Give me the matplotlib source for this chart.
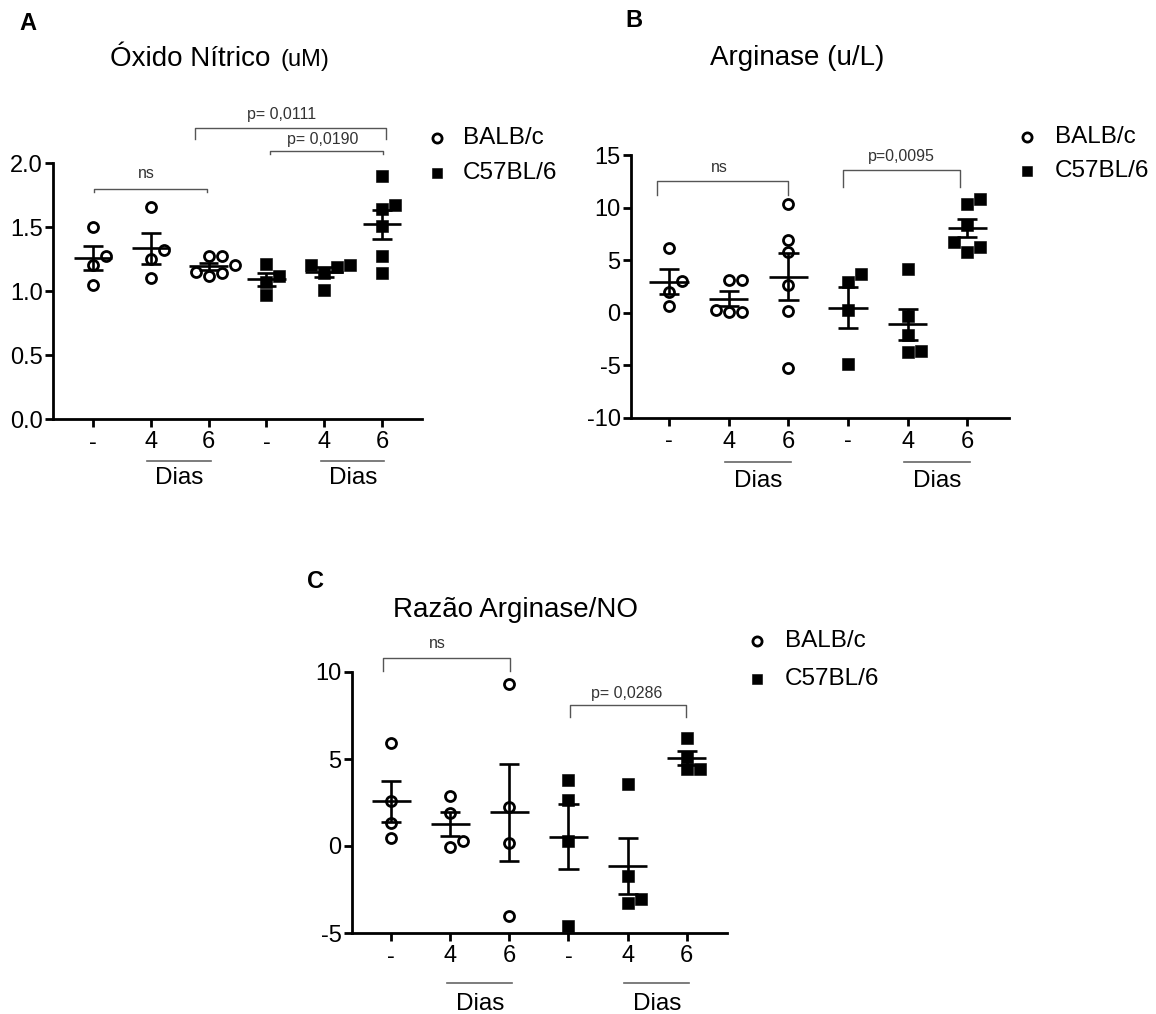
import numpy as np
import matplotlib
matplotlib.use("Agg")
from matplotlib import pyplot as plt
from matplotlib import transforms as mtrans
from matplotlib.lines import Line2D

plt.rcParams['font.family'] = ['Liberation Sans', 'DejaVu Sans']
plt.rcParams['axes.unicode_minus'] = False

W = 1156; H = 1014

# groups: BALB/c (-, 4d, 6d) then C57BL/6 (-, 4d, 6d)
tick_labels = ["-", "4", "6", "-", "4", "6"]
strains = ["BALB/c", "C57BL/6"]

no_values = [
    [1.50, 1.27, 1.20, 1.05],
    [1.66, 1.32, 1.25, 1.10],
    [1.20, 1.12, 1.27, 1.15, 1.27, 1.14],
    [1.21, 1.12, 1.07, 0.97],
    [1.20, 1.20, 1.19, 1.14, 1.01],
    [1.90, 1.67, 1.64, 1.51, 1.27, 1.14],
]
arg_values = [
    [6.2, 3.0, 2.0, 0.6],
    [3.1, 3.1, 0.1, 0.3, 0.1],
    [10.3, 6.9, 5.8, 2.6, 0.2, -5.2],
    [3.7, 2.9, 0.3, -4.9],
    [4.2, -0.3, -2.1, -3.7, -3.6],
    [10.8, 10.3, 8.3, 6.7, 6.3, 5.8],
]
ratio_values = [
    [5.9, 2.6, 1.3, 0.45],
    [2.9, 1.9, -0.05, 0.3],
    [9.3, 2.25, 0.2, -4.0],
    [3.8, 2.65, 0.3, -4.6],
    [3.55, -1.75, -3.3, -3.05],
    [6.2, 5.1, 4.45, 4.45],
]

# brackets: (x1, x2, y_top, y_bottom, text, text_x, text_y)
no_brackets = [
    (0.02, 1.97, 1.80, 1.77, "ns", 0.92, 1.92),
    (1.76, 5.07, 2.27, 2.19, "p= 0,0111", 3.27, 2.38),
    (3.06, 5.02, 2.09, 2.07, "p= 0,0190", 3.98, 2.18),
]
arg_brackets = [
    (-0.2, 2.0, 12.5, 11.2, "ns", 0.84, 13.8),
    (2.92, 4.88, 13.54, 12.0, "p=0,0095", 3.89, 14.9),
]
ratio_brackets = [
    (-0.14, 2.01, 10.82, 10.08, "ns", 0.79, 11.65),
    (3.02, 4.98, 8.10, 7.39, "p= 0,0286", 3.99, 8.77),
]


def fig_box(left, top, right, bottom):
    return [left / W, 1 - bottom / H, (right - left) / W, (bottom - top) / H]


def swarm(values, x0, px_x, px_y, d=11.0, step=13.0):
    #simple beeswarm in pixel space, lowest values placed first
    values = np.asarray(values)
    order = np.argsort(values, kind="stable")
    placed = []
    xs = np.zeros(len(values))
    for i in order:
        y = values[i] * px_y
        for k in [0, 1, -1, 2, -2, 3, -3]:
            x = k * step
            if all((x - a) ** 2 + (y - b) ** 2 >= d * d for a, b in placed):
                break
        placed.append((x, y))
        xs[i] = x0 + x / px_x
    return xs


def draw_panel(fig, box_px, data, ylim, yticks, yfmt, xlim, brackets, dias_off):
    ax = fig.add_axes(fig_box(*box_px))
    ax.set_xlim(*xlim); ax.set_ylim(*ylim)
    w_px = box_px[2] - box_px[0]; h_px = box_px[3] - box_px[1]
    px_x = w_px / (xlim[1] - xlim[0]); px_y = h_px / (ylim[1] - ylim[0])

    for g, vals in enumerate(data):
        xs = swarm(vals, g, px_x, px_y)
        if g < 3:
            ax.plot(xs, vals, 'o', ms=7.2, mfc='white', mec='black', mew=2.0,
                    ls='none', clip_on=False, zorder=3)
        else:
            ax.plot(xs, vals, 's', ms=8.4, mfc='black', mec='black', mew=0.4,
                    ls='none', clip_on=False, zorder=3)
        m = np.mean(vals); se = np.std(vals, ddof=1) / np.sqrt(len(vals))
        ax.hlines(m, g - 0.33, g + 0.33, color='black', lw=1.9, zorder=4)
        ax.vlines(g, m - se, m + se, color='black', lw=1.9, zorder=4)
        ax.hlines([m - se, m + se], g - 0.17, g + 0.17, color='black', lw=1.9, zorder=4)

    for spine in ['top', 'right']:
        ax.spines[spine].set_visible(False)
    for spine in ['left', 'bottom']:
        ax.spines[spine].set_linewidth(2.0)
    ax.set_yticks(yticks)
    ax.set_yticklabels([yfmt.format(t) for t in yticks])
    ax.set_xticks(range(6))
    ax.set_xticklabels(tick_labels)
    ax.tick_params(axis='both', length=6, width=2.0, labelsize=17, direction='out')
    ax.tick_params(axis='y', pad=1.5)
    ax.tick_params(axis='x', pad=3)

    for x1, x2, yt, yb, txt, tx, ty in brackets:
        ax.plot([x1, x1, x2, x2], [yb, yt, yt, yb], color='#555555', lw=1.0,
                clip_on=False)
        ax.text(tx, ty, txt, ha='center', va='center', fontsize=11.5, color='#333333')

    # "Dias" annotation under the 4 / 6 ticks of each strain
    line_tr = mtrans.offset_copy(ax.get_xaxis_transform(), fig=fig, x=0, y=-dias_off[0], units='dots')
    text_tr = mtrans.offset_copy(ax.get_xaxis_transform(), fig=fig, x=0, y=-dias_off[1], units='dots')
    for g4, g6 in [(1, 2), (4, 5)]:
        ax.add_line(Line2D([g4 - 0.06, g6 + 0.04], [0, 0], transform=line_tr,
                           color='#666666', lw=1.2, clip_on=False))
        ax.text((g4 + g6) / 2, 0, "Dias", transform=text_tr, ha='center', va='center',
                fontsize=17.5)
    return ax


def draw_legend(fig, x_marker, x_text, rows):
    for (mk, ms, mfc, mew), label, y in zip([('o', 6.6, 'white', 2.0), ('s', 7.6, 'black', 0.4)],
                                           strains, rows):
        fig.add_artist(Line2D([x_marker / W], [1 - y / H], marker=mk, ms=ms, mfc=mfc,
                              mec='black', mew=mew, ls='none', transform=fig.transFigure))
        fig.text(x_text / W, 1 - y / H, label, ha='left', va='center', fontsize=17.5)


fig = plt.figure(figsize=(W / 100, H / 100), dpi=100)

draw_panel(fig, (53, 163, 422, 419), no_values, (0, 2.0), [0, 0.5, 1.0, 1.5, 2.0], "{:.1f}",
           (-0.69, 5.69), no_brackets, (42, 59))
draw_panel(fig, (631, 155, 1009, 418), arg_values, (-10, 15), [-10, -5, 0, 5, 10, 15], "{:d}",
           (-0.64, 5.70), arg_brackets, (44, 63))
draw_panel(fig, (352, 672, 727, 933), ratio_values, (-5, 10), [-5, 0, 5, 10], "{:d}",
           (-0.66, 5.68), ratio_brackets, (50, 71))

# panel letters and titles
fig.text(19 / W, 1 - 30 / H, "A", fontsize=17, fontweight='bold', va='baseline')
fig.text(625 / W, 1 - 27 / H, "B", fontsize=17, fontweight='bold', va='baseline')
fig.text(307 / W, 1 - 588 / H, "C", fontsize=17, fontweight='bold', va='baseline')

fig.text(110 / W, 1 - 66 / H, "Óxido Nítrico", fontsize=20, va='baseline', ha='left')
fig.text(280 / W, 1 - 66 / H, "(uM)", fontsize=17, va='baseline', ha='left')
fig.text(710 / W, 1 - 65 / H, "Arginase (u/L)", fontsize=20, va='baseline', ha='left')
fig.text(393 / W, 1 - 617 / H, "Razão Arginase/NO", fontsize=20, va='baseline', ha='left')

draw_legend(fig, 437, 463, [138, 173])
draw_legend(fig, 1027, 1055, [137, 171])
draw_legend(fig, 757, 785, [641, 679])

fig.savefig("out.png", dpi=100)
